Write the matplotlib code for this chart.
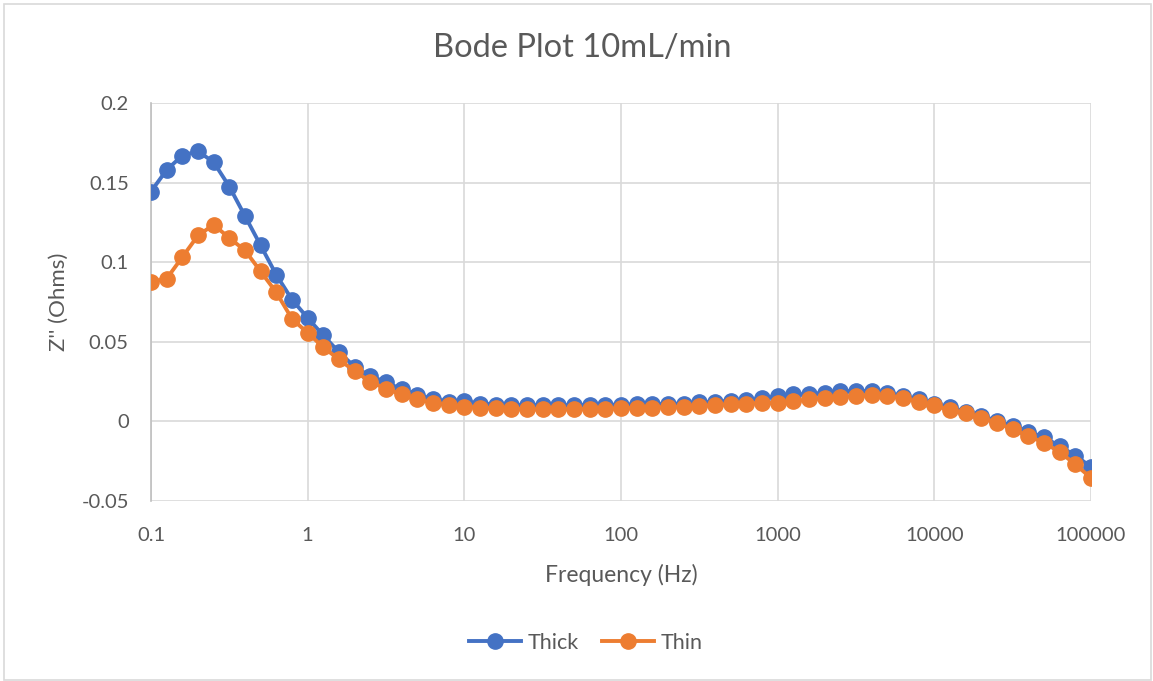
import matplotlib
matplotlib.use("Agg")
import matplotlib.pyplot as plt
from matplotlib.patches import Rectangle
from matplotlib.ticker import FixedLocator, FixedFormatter, NullLocator

freq = [0.1, 0.1259, 0.1585, 0.1995, 0.2512, 0.3162, 0.3981, 0.5012, 0.631, 0.7943,
        1, 1.259, 1.585, 1.995, 2.512, 3.162, 3.981, 5.012, 6.31, 7.943,
        10, 12.59, 15.85, 19.95, 25.12, 31.62, 39.81, 50.12, 63.1, 79.43,
        100, 125.9, 158.5, 199.5, 251.2, 316.2, 398.1, 501.2, 631, 794.3,
        1000, 1259, 1585, 1995, 2512, 3162, 3981, 5012, 6310, 7943,
        10000, 12590, 15850, 19950, 25120, 31620, 39810, 50120, 63100, 79430,
        100000]

thick = [0.1444, 0.158, 0.167, 0.1697, 0.1628, 0.1475, 0.129, 0.1105, 0.092, 0.0765,
         0.065, 0.054, 0.0435, 0.0343, 0.0284, 0.0247, 0.0201, 0.0165, 0.0142, 0.0125,
         0.0128, 0.0112, 0.0106, 0.0103, 0.0102, 0.0102, 0.0102, 0.0102, 0.0103, 0.0104,
         0.0105, 0.0107, 0.0108, 0.0110, 0.0112, 0.0119, 0.0123, 0.0130, 0.0134, 0.0144,
         0.0159, 0.0169, 0.0171, 0.0180, 0.0190, 0.0190, 0.0192, 0.0180, 0.0159, 0.0138,
         0.0110, 0.0088, 0.0061, 0.0033, 0.0004, -0.0029, -0.0065, -0.0100, -0.0155, -0.0215,
         -0.0285]

thin = [0.0876, 0.0897, 0.1032, 0.1168, 0.1235, 0.1152, 0.1074, 0.0942, 0.081, 0.0644,
        0.0556, 0.0466, 0.0389, 0.0316, 0.0249, 0.0205, 0.0169, 0.0138, 0.0117, 0.0101,
        0.0093, 0.0085, 0.0082, 0.0078, 0.0076, 0.0076, 0.0076, 0.0077, 0.0078, 0.0079,
        0.0082, 0.0085, 0.0087, 0.0090, 0.0093, 0.0097, 0.0102, 0.0107, 0.0111, 0.0115,
        0.0117, 0.0127, 0.0138, 0.0148, 0.0155, 0.0159, 0.0165, 0.0159, 0.0148, 0.0121,
        0.0100, 0.0071, 0.0050, 0.0023, -0.0008, -0.0050, -0.0092, -0.0134, -0.0192, -0.0270,
        -0.0355]

x_ticks = [0.1, 1, 10, 100, 1000, 10000, 100000]
x_tick_labels = ["0.1", "1", "10", "100", "1000", "10000", "100000"]
y_ticks = [-0.05, 0, 0.05, 0.1, 0.15, 0.2]
y_tick_labels = ["-0.05", "0", "0.05", "0.1", "0.15", "0.2"]

plt.rcParams['font.family'] = ['Lato', 'DejaVu Sans']
TXT = '#595959'
GRID = '#d9d9d9'

W, H = 1153, 681
fig = plt.figure(figsize=(W / 100, H / 100), dpi=100)
fig.patches.append(Rectangle((4 / W, 1 / H), (W - 6) / W, (H - 5) / H,
                             transform=fig.transFigure, fill=False,
                             edgecolor=GRID, linewidth=1.2))

ax = fig.add_axes([151 / W, 1 - 501 / H, (1091 - 151) / W, (501 - 103) / H])
ax.set_xscale('log')
ax.set_xlim(0.1, 100000)
ax.set_ylim(-0.05, 0.2)

ax.plot(freq, thick, color='#4472C4', linewidth=2.8, marker='o', markersize=11,
        label='Thick', zorder=3)
ax.plot(freq, thin, color='#ED7D31', linewidth=2.8, marker='o', markersize=11,
        label='Thin', zorder=4)

ax.xaxis.set_major_locator(FixedLocator(x_ticks))
ax.xaxis.set_major_formatter(FixedFormatter(x_tick_labels))
ax.xaxis.set_minor_locator(NullLocator())
ax.yaxis.set_major_locator(FixedLocator(y_ticks))
ax.yaxis.set_major_formatter(FixedFormatter(y_tick_labels))

ax.grid(True, which='major', color=GRID, linewidth=1.2)
ax.set_axisbelow(True)
for s in ['top', 'right', 'bottom']:
    ax.spines[s].set_visible(False)
ax.spines['left'].set_color('#bfbfbf')
ax.spines['left'].set_linewidth(1.2)

ax.tick_params(axis='both', length=0, labelsize=14.5, labelcolor=TXT)
ax.tick_params(axis='y', pad=16)
ax.tick_params(axis='x', pad=19)

ax.set_xlabel('Frequency (Hz)', fontsize=16.5, color=TXT, labelpad=14)
ax.set_ylabel("Z'' (Ohms)", fontsize=16, color=TXT, labelpad=9)

fig.text(582 / W, 1 - 48 / H, 'Bode Plot 10mL/min', ha='center', va='center',
         fontsize=23.5, color=TXT)

leg = fig.legend(loc='center', bbox_to_anchor=(586 / W, 1 - 643 / H), ncol=2,
                 frameon=False, fontsize=15.5, handlelength=2.4, columnspacing=1.1,
                 handletextpad=0.3)
for t in leg.get_texts():
    t.set_color(TXT)

fig.savefig('out.png', dpi=100)
